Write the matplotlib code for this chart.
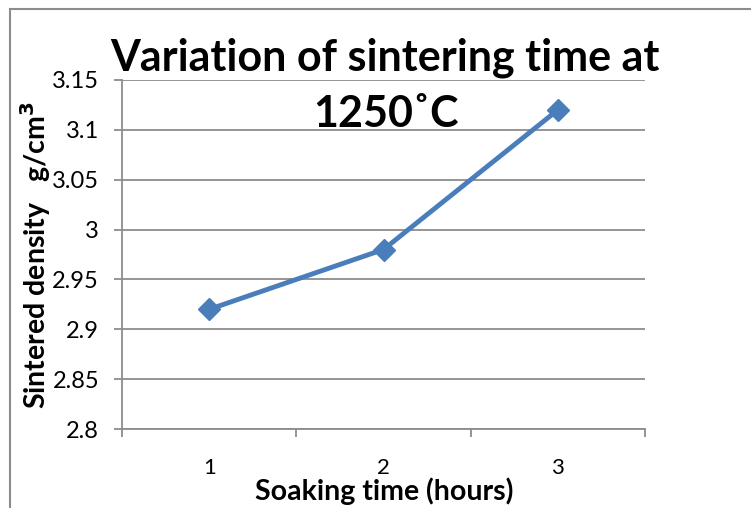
import matplotlib.pyplot as plt
from matplotlib.lines import Line2D

# soaking time at 1250 C vs. sintered density
hours = [1, 2, 3]
density = [2.92, 2.98, 3.12]
y_ticks = [2.8, 2.85, 2.9, 2.95, 3.0, 3.05, 3.1, 3.15]
y_tick_labels = ["2.8", "2.85", "2.9", "2.95", "3", "3.05", "3.1", "3.15"]

plt.rcParams['font.family'] = ['Lato', 'DejaVu Sans']

W, H = 751, 508
fig = plt.figure(figsize=(W / 100, H / 100), dpi=100)
ax = fig.add_axes([122 / W, 79 / H, 523 / W, 349 / H])

grid_c = '#8c8c8c'
line_c = '#4a7ebb'

ax.plot(hours, density, color=line_c, lw=3.5, marker='D', ms=11.5,
        mfc=line_c, mec=line_c, zorder=3, clip_on=False)

ax.set_xlim(0.5, 3.5)
ax.set_ylim(2.8, 3.15)
ax.set_yticks(y_ticks)
ax.set_yticklabels(y_tick_labels, fontsize=17)
ax.yaxis.grid(True, color=grid_c, lw=1.3)
ax.set_axisbelow(True)

# category boundary ticks on the x axis, labels well below
ax.set_xticks([0.5, 1.5, 2.5, 3.5])
ax.set_xticklabels([])
ax.tick_params(axis='x', length=6, width=1.3, color=grid_c, direction='out')
ax.tick_params(axis='y', length=5.5, width=1.3, color=grid_c, direction='out', pad=11)
for h in hours:
    ax.annotate(str(h), (h, 0), xycoords=('data', 'axes fraction'),
                xytext=(0, -(474 - 429)), textcoords='offset pixels',
                fontsize=16, ha='center', va='baseline')

for s in ['top', 'right']:
    ax.spines[s].set_visible(False)
for s in ['left', 'bottom']:
    ax.spines[s].set_color(grid_c)
    ax.spines[s].set_linewidth(1.3)

fig.text(384 / W, 1 - 500 / H, 'Soaking time (hours)', fontsize=20.5,
         fontweight='bold', ha='center', va='baseline')
fig.text(36 / W, 1 - 255 / H, 'Sintered density   g/cm$^\\mathbf{3}$',
         fontsize=20.5, fontweight='bold', rotation=90, ha='center', va='center')

fig.text(385 / W, 1 - 70 / H, 'Variation of sintering time at', fontsize=31,
         fontweight='bold', ha='center', va='baseline')
fig.text(386 / W, 1 - 127 / H, '1250\u02daC', fontsize=31,
         fontweight='bold', ha='center', va='baseline')

# outer chart border
fig.add_artist(Line2D([10 / W, 10 / W], [0, 1 - 9 / H], color='#8c8c8c',
                      lw=1.5, transform=fig.transFigure))
fig.add_artist(Line2D([10 / W, 1], [1 - 9 / H, 1 - 9 / H], color='#8c8c8c',
                      lw=1.5, transform=fig.transFigure))

fig.savefig('out.png', dpi=100)
